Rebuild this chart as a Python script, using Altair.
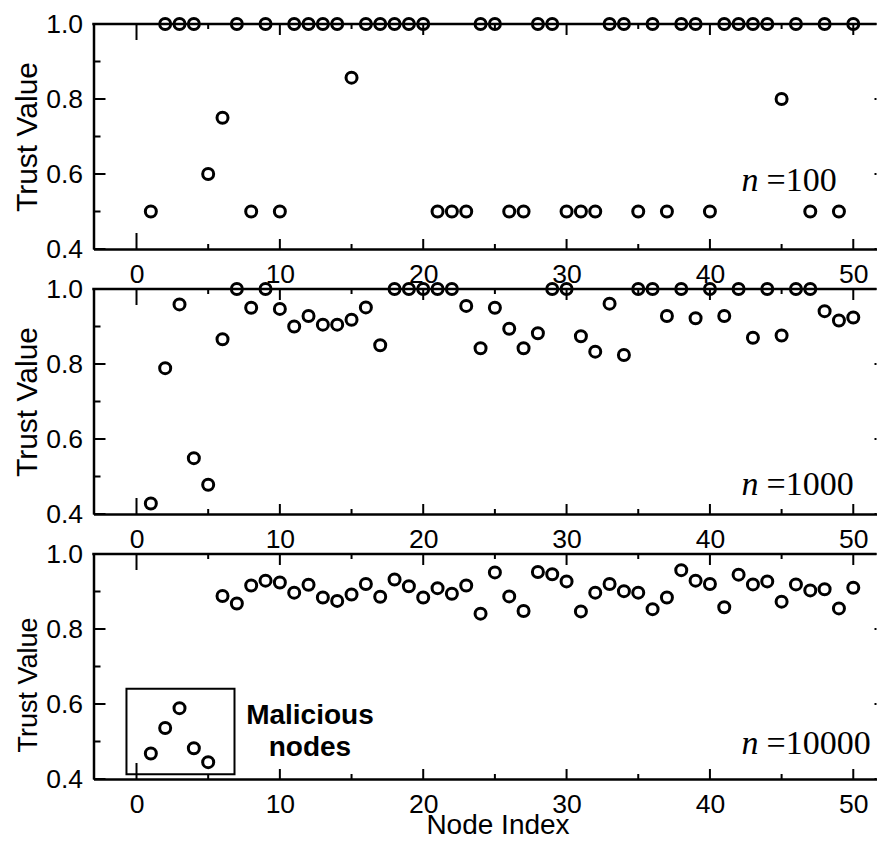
import altair as alt
import pandas as pd

# ---------------- data ----------------
node_index = list(range(1, 51))

trust_n100 = [0.5, 1.0, 1.0, 1.0, 0.6, 0.75, 1.0, 0.5, 1.0, 0.5,
              1.0, 1.0, 1.0, 1.0, 0.857, 1.0, 1.0, 1.0, 1.0, 1.0,
              0.5, 0.5, 0.5, 1.0, 1.0, 0.5, 0.5, 1.0, 1.0, 0.5,
              0.5, 0.5, 1.0, 1.0, 0.5, 1.0, 0.5, 1.0, 1.0, 0.5,
              1.0, 1.0, 1.0, 1.0, 0.8, 1.0, 0.5, 1.0, 0.5, 1.0]

trust_n1000 = [0.428, 0.789, 0.959, 0.549, 0.478, 0.866, 1.0, 0.95, 1.0, 0.947,
               0.9, 0.928, 0.905, 0.905, 0.918, 0.951, 0.85, 1.0, 1.0, 1.0,
               1.0, 1.0, 0.955, 0.842, 0.95, 0.894, 0.842, 0.882, 1.0, 1.0,
               0.874, 0.833, 0.961, 0.824, 1.0, 1.0, 0.928, 1.0, 0.922, 1.0,
               0.928, 1.0, 0.87, 1.0, 0.876, 1.0, 1.0, 0.941, 0.916, 0.924]

trust_n10000 = [0.468, 0.536, 0.589, 0.482, 0.445, 0.888, 0.868, 0.916, 0.929, 0.924,
                0.897, 0.918, 0.884, 0.875, 0.892, 0.920, 0.886, 0.932, 0.914, 0.884,
                0.909, 0.894, 0.916, 0.841, 0.951, 0.887, 0.848, 0.952, 0.946, 0.927,
                0.847, 0.897, 0.920, 0.901, 0.897, 0.853, 0.884, 0.957, 0.929, 0.920,
                0.858, 0.945, 0.919, 0.927, 0.873, 0.919, 0.903, 0.906, 0.855, 0.910]

panel_labels = ["=100", "=1000", "=10000"]
x_major_ticks = [0, 10, 20, 30, 40, 50]
x_minor_ticks = [5, 15, 25, 35, 45]
y_major_ticks = [0.4, 0.6, 0.8, 1.0]
y_minor_ticks = [0.5, 0.7, 0.9]
malicious_lines = ["Malicious", "nodes"]

# ---------------- layout ----------------
W = 783
H = 225
XS = alt.Scale(domain=[-3, 51.62], nice=False, zero=False)
YS = alt.Scale(domain=[0.4, 1.0], nice=False, zero=False)
FONT = "Liberation Sans"

xt_major = pd.DataFrame({"v": x_major_ticks})
xt_minor = pd.DataFrame({"v": x_minor_ticks})
yt_major = pd.DataFrame({"v": y_major_ticks})
yt_minor = pd.DataFrame({"v": y_minor_ticks})
frame_row = pd.DataFrame({"k": [0]})


def panel(values, label, label_y, ytitle_size, ytitle_y, last):
    df = pd.DataFrame({"idx": node_index, "trust": values})
    xaxis_kw = dict(values=x_major_ticks, ticks=False, domain=True, domainColor="black",
                    domainWidth=2.5, grid=False, labelFontSize=26.5, labelPadding=12,
                    labelFlush=False, format="d", labelFont=FONT, labelColor="black")
    if last:
        xaxis_kw.update(title="Node Index", titleFontSize=28, titleFontWeight="normal",
                        titleFont=FONT, titleColor="black", titleX=404, titleY=54,
                        titleBaseline="alphabetic", titleAlign="center", titleAngle=0)
    else:
        xaxis_kw.update(title=None)
    XA = alt.Axis(**xaxis_kw)
    YA = alt.Axis(values=y_major_ticks, ticks=False, domain=True, domainColor="black",
                  domainWidth=2.5, grid=False, labelFontSize=26.5, labelPadding=11,
                  format=".1f", labelFont=FONT, labelColor="black",
                  title="Trust Value", titleFontSize=ytitle_size, titleFontWeight="normal",
                  titleFont=FONT, titleColor="black", titleX=-57.5, titleY=ytitle_y,
                  titleAngle=270, titleBaseline="alphabetic", titleAlign="center")

    def X(f):
        return alt.X(f, scale=XS, axis=XA)

    def Y(f):
        return alt.Y(f, scale=YS, axis=YA)

    def xtick(d, y0, y1, flt=None):
        c = alt.Chart(d)
        if flt is not None:
            c = c.transform_filter(flt)
        return c.mark_rule(color="black", strokeWidth=2).encode(
            x=X("v:Q"), y=alt.value(y0), y2=alt.value(y1))

    def ytick(d, x0, x1):
        return alt.Chart(d).mark_rule(color="black", strokeWidth=2).encode(
            y=Y("v:Q"), x=alt.value(x0), x2=alt.value(x1))

    pts = alt.Chart(df).mark_point(shape="circle", filled=False, size=121,
                                   strokeWidth=3, color="black", opacity=1).encode(
        x=X("idx:Q"), y=Y("trust:Q"))

    top_line = alt.Chart(frame_row).mark_rule(color="black", strokeWidth=2.5).encode(
        x=alt.value(-1.25), x2=alt.value(W), y=alt.value(0))

    ticks = [
        xtick(xt_major, H, H - 16, "datum.v == 0"),
        xtick(xt_major, H, H - 10, "datum.v != 0"),
        xtick(xt_minor, H, H - 5),
        xtick(xt_major, 0, 16, "datum.v == 0"),
        xtick(xt_major, 0, 11, "datum.v != 0"),
        xtick(xt_minor, 0, 5),
        ytick(yt_major, 0, 12),
        ytick(yt_minor, 0, 7),
        ytick(yt_major, W, W - 2),
    ]

    ann = pd.DataFrame({"x": [42.2], "y": [label_y], "n": ["n"], "t": [label]})
    n_txt = alt.Chart(ann).mark_text(font="Liberation Serif", fontStyle="italic",
                                     fontSize=34, align="left", baseline="alphabetic",
                                     color="black").encode(
        x=X("x:Q"), y=Y("y:Q"), text="n:N")
    eq_txt = alt.Chart(ann).mark_text(font="Liberation Serif", fontSize=34, dx=25,
                                      align="left", baseline="alphabetic",
                                      color="black").encode(
        x=X("x:Q"), y=Y("y:Q"), text="t:N")

    layers = [top_line, pts] + ticks + [n_txt, eq_txt]

    if last:
        box = pd.DataFrame({"x": [-0.70], "x2": [6.836], "y": [0.641], "y2": [0.413]})
        rect = alt.Chart(box).mark_rect(fillOpacity=0, stroke="black", strokeWidth=2).encode(
            x=X("x:Q"), x2="x2:Q", y=Y("y:Q"), y2="y2:Q")
        mal = pd.DataFrame({"x": [12.1, 12.1], "y": [0.548, 0.461], "t": malicious_lines})
        mtxt = alt.Chart(mal).mark_text(font=FONT, fontWeight="bold", fontSize=28,
                                        align="center", baseline="alphabetic",
                                        color="black").encode(
            x=X("x:Q"), y=Y("y:Q"), text="t:N")
        layers += [rect, mtxt]

    return alt.layer(*layers).properties(width=W, height=H)


p1 = panel(trust_n100, panel_labels[0], 0.5557, 30, H / 2, False)
p2 = panel(trust_n1000, panel_labels[1], 0.4495, 30, H / 2, False)
p3 = panel(trust_n10000, panel_labels[2], 0.468, 27, H / 2 + 18, True)

chart = alt.vconcat(p1, p2, p3, spacing=40, bounds="flush").properties(
    padding={"left": 3.5, "top": 3, "right": 0, "bottom": 0}
).configure_view(stroke=None).configure_axis(grid=False)

chart.save("out.html", embed_options={"renderer": "svg", "actions": False})
